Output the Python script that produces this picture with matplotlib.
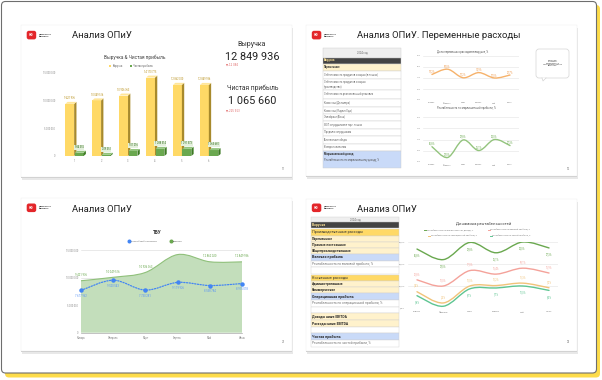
import numpy as np
import matplotlib
matplotlib.use("Agg")
import matplotlib.pyplot as plt
from matplotlib.patches import Rectangle, FancyBboxPatch, Polygon, PathPatch
from matplotlib.path import Path

plt.rcParams['font.family'] = ['Roboto', 'DejaVu Sans']

# ---------------- data ----------------
months = ["Январь", "Февраль", "Март", "Апрель", "Май", "Июнь"]
bar_categories = ["1", "2", "3", "4", "5", "6"]
revenue = [9421936, 10049516, 10926363, 14170775, 12862020, 12849936]
net_profit = [584355, 209351, 901216, 1288514, 1291573, 1065660]
breakeven = [7677962, 9520543, 7730281, 9119926, 8558784, 8915078]
variable_share = [73.2, 78.0, 70.2, 74.9, 70.0, 72.7]
margin_rent = [26.8, 22.0, 29.8, 25.1, 30.0, 27.3]
gross_rent = [12.8, 10.0, 17.0, 15.4, 18.1, 15.9]
oper_rent = [7.4, 2.3, 10.0, 10.2, 11.3, 9.2]
net_rent = [5.6, 0.8, 8.7, 9.1, 10.0, 8.0]
rev_ticks = [0, 5000000, 10000000, 15000000]
share_ticks = [50, 60, 70, 80, 90]
margin_ticks = [20, 25, 30, 35, 40]
rent_ticks = [0, 10, 20, 30]

table2_rows = ["2024 год", "Выручка", "Переменные",
               "Себестоимость продуктов и сырья (в точках)",
               "Себестоимость продуктов и сырья\n(производство)",
               "Себестоимость реализованной упаковки",
               "Комиссия (Деливери)", "Комиссия (Яндекс Еда)", "Эквайринг (Банк)",
               "ФОТ сотрудников в торг. точках", "Продажи сотрудникам",
               "Бесплатные обеды", "Возврат клиентам", "Маржинальный доход"]
table2_sub = "Рентабельность по маржинальному доходу, %"

table4_rows = ["2024 год", "Выручка", "Производственные расходы", "Переменные",
               "Прямые постоянные", "Общепроизводственные", "Валовая прибыль",
               "Рентабельность по валовой прибыли, %", "", "Косвенные расходы",
               "Административные", "Коммерческие", "Операционная прибыль",
               "Рентабельность по операционной прибыли, %", "", "Доходы ниже EBITDA",
               "Расходы ниже EBITDA", "", "Чистая прибыль",
               "Рентабельность по чистой прибыли, %"]

# ---------------- style / layout ----------------
W, H = 602, 380
YEL, YEL_SIDE, YEL_TOP = '#ffd966', '#a88a2c', '#ffe69a'
GRN, GRN_SIDE, GRN_TOP = '#6aa84f', '#3d7a24', '#93c47d'
BLUE = '#4285f4'

def fmt_num(v):
    return f"{v:,}".replace(",", " ")

def fmt_pct(v):
    return f"{v:.1f}%".replace(".", ",")

fig = plt.figure(figsize=(6.02, 3.80), dpi=100)
bg = fig.add_axes([0, 0, 1, 1])
bg.set_xlim(0, W)
bg.set_ylim(H, 0)
bg.axis('off')

def add_ax(x0, y0, x1, y1):
    ax = fig.add_axes([x0 / W, 1 - y1 / H, (x1 - x0) / W, (y1 - y0) / H])
    ax.set_facecolor('none')
    for s in ax.spines.values():
        s.set_visible(False)
    ax.tick_params(length=0, labelsize=1.8, colors='#888888', pad=1.5)
    return ax

def smooth(xs, ys):
    xs = np.asarray(xs, float)
    ys = np.asarray(ys, float)
    n = len(xs)
    verts = [(xs[0], ys[0])]
    codes = [Path.MOVETO]
    for i in range(n - 1):
        i0 = max(i - 1, 0)
        i3 = min(i + 2, n - 1)
        c1 = (xs[i] + (xs[i + 1] - xs[i0]) / 6, ys[i] + (ys[i + 1] - ys[i0]) / 6)
        c2 = (xs[i + 1] - (xs[i3] - xs[i]) / 6, ys[i + 1] - (ys[i3] - ys[i]) / 6)
        verts += [c1, c2, (xs[i + 1], ys[i + 1])]
        codes += [Path.CURVE4] * 3
    return verts, codes

def smooth_line(ax, xs, ys, color, lw=0.9, ls='-', z=3):
    v, c = smooth(xs, ys)
    ax.add_patch(PathPatch(Path(v, c), fill=False, ec=color, lw=lw, ls=ls,
                           zorder=z, capstyle='round'))

# ---------------- outer frame ----------------
bg.add_patch(FancyBboxPatch((5, 5), 595, 372.5, boxstyle="round,pad=0,rounding_size=4",
                            fc='#fddc4a', ec='none', zorder=0))
bg.add_patch(FancyBboxPatch((1.5, 1.5), 595, 371.5, boxstyle="round,pad=0,rounding_size=4",
                            fc='white', ec='#6e6e6e', lw=0.8, zorder=1))

slides = [(21, 25, 292, 177), (306, 25, 577, 176), (21, 198, 292, 351), (306, 199, 577, 351)]
for (x0, y0, x1, y1) in slides:
    bg.add_patch(Rectangle((x0 + 0.5, y0 + 2.8), x1 - x0, y1 - y0, fc='#e8e8e8', ec='none', zorder=2))
    bg.add_patch(Rectangle((x0, y0 + 1.4), x1 - x0, y1 - y0, fc='#cccccc', ec='none', zorder=2))
    bg.add_patch(Rectangle((x0, y0), x1 - x0, y1 - y0, fc='white', ec='#ececec', lw=0.3, zorder=3))

def logo(x, y):
    bg.add_patch(FancyBboxPatch((x, y), 9.5, 8.6, boxstyle="round,pad=0,rounding_size=2.2",
                                fc='#e3262a', ec='none', zorder=5))
    bg.text(x + 4.75, y + 4.4, "НФ", fontsize=2.2, color='white', fontweight='bold',
            ha='center', va='center', zorder=6)
    bg.text(x + 12.5, y + 4.3, "Нескучные\nфинансы", fontsize=1.7, color='#333333',
            fontweight='bold', ha='left', va='center', linespacing=1.1, zorder=6)

def title(x, y, s):
    bg.text(x, y, s, fontsize=6.8, color='#222222', ha='left', va='center', zorder=6)

# ================= slide 1 =================
logo(26.7, 30.8)
title(71.5, 35.8, "Анализ ОПиУ")
bg.text(135, 57.5, "Выручка & Чистая прибыль", fontsize=3.4, color='#444444',
        ha='center', va='center', zorder=6)
bg.add_patch(Rectangle((108.6, 64.9), 2.4, 2.4, fc=YEL, ec='none', zorder=6))
bg.text(112.3, 66.1, "Выручка", fontsize=1.8, color='#666666', va='center', zorder=6)
bg.add_patch(Rectangle((129.6, 64.9), 2.4, 2.4, fc=GRN, ec='none', zorder=6))
bg.text(133.3, 66.1, "Чистая прибыль", fontsize=1.8, color='#666666', va='center', zorder=6)

ax1 = add_ax(58, 73, 225, 156)
x = np.arange(len(revenue))
bw = 0.33
ax1.set_xlim(-0.6, 5.6)
ax1.set_ylim(0, 15e6)
dx = 2.3 * 6.2 / (225 - 58)
dy = 2.0 * 15e6 / (156 - 73)
yb = ax1.bar(x - bw / 2, revenue, bw, color=YEL, zorder=3)
gb = ax1.bar(x + bw / 2 + 0.02, net_profit, bw, color=GRN, zorder=5)
for bars, side, top, z in [(yb, YEL_SIDE, YEL_TOP, 3), (gb, GRN_SIDE, GRN_TOP, 5)]:
    for r in bars.patches:
        x0, w, h = r.get_x(), r.get_width(), r.get_height()
        ax1.add_patch(Polygon([(x0 + w, 0), (x0 + w + dx, dy), (x0 + w + dx, h + dy), (x0 + w, h)],
                              closed=True, fc=side, ec='none', zorder=z))
        ax1.add_patch(Polygon([(x0, h), (x0 + dx, h + dy), (x0 + w + dx, h + dy), (x0 + w, h)],
                              closed=True, fc=top, ec='none', zorder=z))
for r, v in zip(yb.patches, revenue):
    ax1.annotate(fmt_num(v), (r.get_x() + r.get_width() / 2, v + dy), xytext=(0, 1.2),
                 textcoords='offset points', ha='center', va='bottom', fontsize=1.8,
                 color='#b8901a', zorder=7, annotation_clip=False)
for r, v in zip(gb.patches, net_profit):
    ax1.annotate(fmt_num(v), (r.get_x() + r.get_width() / 2, v + dy), xytext=(0, 1.2),
                 textcoords='offset points', ha='center', va='bottom', fontsize=1.8,
                 color='#2f6b1a', zorder=7, annotation_clip=False,
                 bbox=dict(fc='#e4f0dd', ec='none', pad=0.3))
ax1.set_xticks(x)
ax1.set_xticklabels(bar_categories)
ax1.set_yticks(rev_ticks)
ax1.set_yticklabels([fmt_num(t) for t in rev_ticks])
ax1.tick_params(axis='y', pad=2.2)
ax1.tick_params(axis='x', pad=2.5)

# KPI panel
bg.text(252, 44.5, "Выручка", fontsize=5, color='#333333', ha='center', va='center', zorder=6)
bg.text(252, 57, fmt_num(revenue[-1]), fontsize=7.8, color='#222222', ha='center', va='center', zorder=6)
bg.text(226.5, 65, "▼" + fmt_num(revenue[-1] - revenue[-2]), fontsize=1.9, color='#e06666',
        ha='left', va='center', zorder=6, family=['DejaVu Sans'])
bg.text(253, 88.5, "Чистая прибыль", fontsize=4.8, color='#333333', ha='center', va='center', zorder=6)
bg.text(252, 101, fmt_num(net_profit[-1]), fontsize=7.8, color='#222222', ha='center', va='center', zorder=6)
bg.text(226.5, 110.5, "▼" + fmt_num(net_profit[-1] - net_profit[-2]), fontsize=1.9, color='#e06666',
        ha='left', va='center', zorder=6, family=['DejaVu Sans'])
bg.text(283.5, 168.5, "11", fontsize=2.0, color='#777777', ha='center', va='center', zorder=6)

# ================= slide 2 =================
logo(311.8, 30.8)
title(357, 35.8, "Анализ ОПиУ. Переменные расходы")

tb2 = [48, 57.5, 63.5, 70.5, 79, 90, 99, 106.5, 113.5, 121, 128.5, 136, 143.5, 150.5, 168]
kinds2 = ['head', 'dark', 'yel'] + ['plain'] * 10 + ['blue']
tx0, tx1 = 323, 401
for i, (txt, k) in enumerate(zip(table2_rows, kinds2)):
    y0, y1 = tb2[i], tb2[i + 1]
    fc = {'head': '#efefef', 'dark': '#434343', 'yel': '#fff2cc', 'plain': 'white', 'blue': '#c9daf8'}[k]
    bg.add_patch(Rectangle((tx0, y0), tx1 - tx0, y1 - y0, fc=fc, ec='#cccccc', lw=0.3, zorder=4))
    if k == 'head':
        bg.text((tx0 + tx1) / 2, (y0 + y1) / 2, txt, fontsize=1.9, color='#666666', ha='center', va='center', zorder=6)
    elif k == 'dark':
        bg.text(tx0 + 1, (y0 + y1) / 2, txt, fontsize=2.0, color='#ffe599', fontweight='bold', va='center', zorder=6)
    elif k == 'yel':
        bg.text(tx0 + 1, (y0 + y1) / 2, txt, fontsize=2.0, color='#333333', fontweight='bold', va='center', zorder=6)
    elif k == 'plain':
        bg.text(tx0 + 1, (y0 + y1) / 2, txt, fontsize=1.85, color='#666666', va='center', linespacing=1.3, zorder=6)
    else:
        bg.text(tx0 + 1, y0 + 4, txt, fontsize=2.0, color='#333333', fontweight='bold', va='center', zorder=6)
        bg.text(tx0 + 1, y0 + 10, table2_sub, fontsize=1.8, color='#555555', va='center', zorder=6)

bg.text(463, 52, "Доля переменных расходов в выручке, %", fontsize=1.9, color='#555555',
        ha='center', va='center', zorder=6)
bg.text(466, 108.5, "Рентабельность по маржинальной прибыли, %", fontsize=1.9, color='#555555',
        ha='center', va='center', zorder=6)

def small_line_chart(rect, vals, ylim, ticks, color, lab_color):
    ax = add_ax(*rect)
    xx = np.arange(len(vals))
    ax.set_xlim(-0.6, len(vals) - 0.4)
    ax.set_ylim(*ylim)
    ax.set_yticks(ticks)
    ax.set_yticklabels([f"{t}%" for t in ticks])
    ax.grid(axis='y', color='#e3e3e3', lw=0.4)
    ax.set_axisbelow(True)
    ax.set_xticks(xx)
    ax.set_xticklabels(months)
    ax.tick_params(labelsize=1.5, pad=1.5)
    smooth_line(ax, xx, vals, color, lw=1.0)
    for xi, v in zip(xx, vals):
        ax.annotate(fmt_pct(v), (xi, v), xytext=(0, 1.0), textcoords='offset points',
                    ha='center', va='bottom', fontsize=1.8, color=lab_color, zorder=6)
    return ax

small_line_chart((422.6, 56, 519.4, 100), variable_share, (50, 90), share_ticks, '#f6b26b', '#ee9b4f')
small_line_chart((422.6, 117, 519.4, 162), margin_rent, (20, 40), margin_ticks, '#93c47d', '#6aa84f')

# callout
bg.add_patch(FancyBboxPatch((536, 49), 33, 29, boxstyle="round,pad=0,rounding_size=3",
                            fc='white', ec='#d4d4d4', lw=0.5, zorder=5))
bg.add_patch(Polygon([(542, 77.7), (546, 77.7), (543, 81)], closed=True, fc='white',
                     ec='none', zorder=6))
bg.plot([542, 543, 546], [77.9, 81, 77.9], color='#d4d4d4', lw=0.5, zorder=6)
bg.text(552.5, 63, "Расходы,\nкоторые\nизменяются\nпропорционально\nвыручке", fontsize=1.7,
        color='#555555', ha='center', va='center', linespacing=1.25, zorder=7)
bg.text(568.5, 168.5, "12", fontsize=2.0, color='#777777', ha='center', va='center', zorder=6)

# ================= slide 3 =================
logo(26.7, 203.5)
title(71.5, 209, "Анализ ОПиУ")
bg.text(157.5, 232.5, "ТБУ", fontsize=3.3, color='#333333', fontweight='bold', ha='center', va='center', zorder=6)
bg.plot([129.3], [241.2], 'o', ms=1.9, color=BLUE, zorder=6)
bg.text(131.3, 241.2, "Точка безубыточности", fontsize=1.7, color='#666666', va='center', zorder=6)
bg.plot([170.7], [241.2], 'o', ms=1.9, color=GRN, zorder=6)
bg.text(172.7, 241.2, "Выручка", fontsize=1.7, color='#666666', va='center', zorder=6)

ax3 = add_ax(81, 250, 242, 332.7)
xx = np.arange(len(revenue))
ax3.set_xlim(0, len(revenue) - 1)
ax3.set_ylim(0, 15e6)
ax3.set_yticks(rev_ticks)
ax3.set_yticklabels([fmt_num(t) for t in rev_ticks])
ax3.grid(axis='y', color='#d8d8d8', lw=0.4, zorder=4)
ax3.spines['bottom'].set_visible(True)
ax3.spines['bottom'].set_color('#aaaaaa')
ax3.spines['bottom'].set_linewidth(0.5)
ax3.set_xticks(xx)
ax3.set_xticklabels(months)
ax3.tick_params(labelsize=1.8, pad=2.2)
v, c = smooth(xx, revenue)
area_v = v + [(xx[-1], 0), (xx[0], 0), (xx[0], revenue[0])]
area_c = c + [Path.LINETO, Path.LINETO, Path.CLOSEPOLY]
ax3.add_patch(PathPatch(Path(area_v, area_c), fc='#c3debb', ec='none', zorder=2))
smooth_line(ax3, xx, revenue, '#8fc07a', lw=0.8, z=3)
smooth_line(ax3, xx, breakeven, BLUE, lw=0.9, ls=(0, (1, 1.2)), z=5)
ax3.plot(xx, breakeven, 'o', ms=2.2, color=BLUE, zorder=6, clip_on=False)
for xi, val in zip(xx, revenue):
    if val < 14e6:
        ax3.annotate(fmt_num(val), (xi, val), xytext=(0, 2.5), textcoords='offset points',
                     ha='center', va='bottom', fontsize=2.0, color='#6aa84f', zorder=7,
                     annotation_clip=False)
for xi, val in zip(xx, breakeven):
    ax3.annotate(fmt_num(val), (xi, val), xytext=(0, -2.5), textcoords='offset points',
                 ha='center', va='top', fontsize=2.0, color='#5b95f5', zorder=7,
                 annotation_clip=False)
bg.text(283.5, 341.8, "21", fontsize=2.0, color='#777777', ha='center', va='center', zorder=6)

# ================= slide 4 =================
logo(311.8, 203.5)
title(357, 209, "Анализ ОПиУ")

tb4 = [217.3, 222.3, 228.3, 235.7, 241.7, 247.7, 254, 260.7, 266.7, 274, 281, 287.3,
       293.3, 300, 306.7, 313.3, 320, 326.7, 333.3, 340, 346.7]
kinds4 = ['head', 'dark', 'org', 'yel', 'yel', 'yel', 'blue', 'rent', 'empty', 'org', 'yel', 'yel',
          'blue', 'rent', 'empty', 'yel', 'yel', 'empty', 'blue', 'rent']
sx0, sx1 = 311, 399
for i, (txt, k) in enumerate(zip(table4_rows, kinds4)):
    y0, y1 = tb4[i], tb4[i + 1]
    fc = {'head': '#efefef', 'dark': '#434343', 'org': '#ffd966', 'yel': '#fff2cc',
          'blue': '#c9daf8', 'rent': 'white', 'empty': 'white'}[k]
    if k == 'org':
        y0 += 0.5
    bg.add_patch(Rectangle((sx0, y0), sx1 - sx0, y1 - y0, fc=fc, ec='#d0d0d0', lw=0.3, zorder=4))
    ym = (y0 + y1) / 2
    if k == 'head':
        bg.text((sx0 + sx1) / 2, ym, txt, fontsize=1.9, color='#666666', ha='center', va='center', zorder=6)
    elif k == 'dark':
        bg.text(sx0 + 1, ym, txt, fontsize=2.4, color='#ffe599', fontweight='bold', va='center', zorder=6)
    elif k == 'org':
        bg.text(sx0 + 1, ym, txt, fontsize=2.7, color='#333333', va='center', zorder=6)
    elif k == 'yel':
        bg.text(sx0 + 1, ym, txt, fontsize=2.4, color='#222222', fontweight='bold', va='center', zorder=6)
    elif k == 'blue':
        bg.text(sx0 + 1, ym, txt, fontsize=2.6, color='#222222', fontweight='bold', va='center', zorder=6)
    elif k == 'rent':
        bg.text(sx0 + 1, ym, txt, fontsize=2.3, color='#777777', va='center', zorder=6)

bg.text(484, 224.5, "Динамика рентабельностей", fontsize=3.0, color='#444444',
        ha='center', va='center', zorder=6)
rent_series = [(margin_rent, '#6aa84f', -1, "Рентабельность по маржинальному доходу, %"),
               (gross_rent, '#f4a29a', 1, "Рентабельность по валовой прибыли, %"),
               (oper_rent, '#f1c37a', 1, "Рентабельность по операционной прибыли, %"),
               (net_rent, '#5ec592', -1, "Рентабельность по чистой прибыли, %")]
legend_pos = [(427, 230.3), (490.5, 230.3), (431, 236.3), (492.5, 236.3)]
for (vals, col, side, name), (lx, ly) in zip(rent_series, legend_pos):
    bg.plot([lx - 2.6, lx - 0.6], [ly, ly], color=col, lw=0.7, zorder=6)
    bg.text(lx, ly, name, fontsize=1.5, color='#777777', va='center', zorder=6)

ax4 = add_ax(408, 242, 558, 308)
xx = np.arange(len(margin_rent))
ax4.set_xlim(-0.34, len(margin_rent) - 1 + 0.34)
ax4.set_ylim(0, 30)
ax4.set_yticks(rent_ticks)
ax4.set_yticklabels([fmt_pct(t) for t in rent_ticks])
ax4.grid(axis='y', color='#e3e3e3', lw=0.4)
ax4.set_axisbelow(True)
ax4.set_xticks(xx)
ax4.set_xticklabels(months)
ax4.tick_params(labelsize=1.7, pad=2.2)
for vals, col, side, name in rent_series:
    smooth_line(ax4, xx, vals, col, lw=1.0)
    for xi, val in zip(xx, vals):
        if val < 1.5:
            continue
        ax4.annotate(fmt_pct(val), (xi, val), xytext=(0, 3.0 * side), textcoords='offset points',
                     ha='center', va='bottom' if side > 0 else 'top', fontsize=1.8,
                     color=col, zorder=7, annotation_clip=False)
bg.text(568.5, 341.8, "22", fontsize=2.0, color='#777777', ha='center', va='center', zorder=6)

fig.savefig("out.png", dpi=100)
